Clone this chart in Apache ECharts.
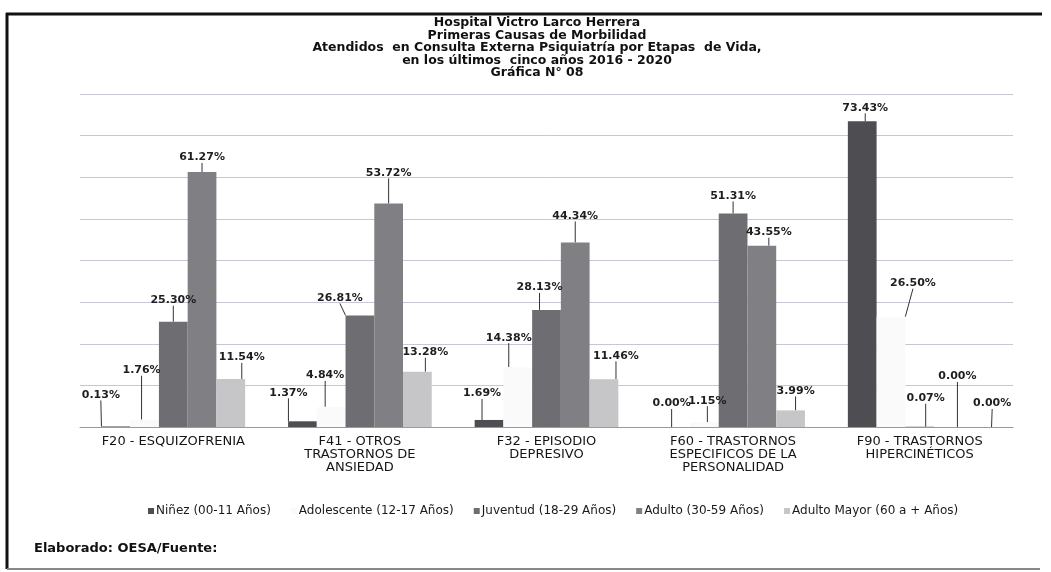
<!DOCTYPE html>
<html>
<head>
<meta charset="utf-8">
<script src="https://cdn.jsdelivr.net/npm/echarts@6/dist/echarts.min.js"></script>
<style>
  html, body { margin: 0; padding: 0; background: #fff; }
  #chart { width: 1051px; height: 572px; }
</style>
</head>
<body>
<div id="chart"></div>
<script>
// categorias (diagnosticos)
const categories = [
  "F20 - ESQUIZOFRENIA",
  "F41 - OTROS\nTRASTORNOS DE\nANSIEDAD",
  "F32 - EPISODIO\nDEPRESIVO",
  "F60 - TRASTORNOS\nESPECIFICOS DE LA\nPERSONALIDAD",
  "F90 - TRASTORNOS\nHIPERCINÉTICOS"
];

// etapas de vida
const groupNames = [
  "Niñez (00-11 Años)",
  "Adolescente (12-17 Años)",
  "Juventud (18-29 Años)",
  "Adulto (30-59 Años)",
  "Adulto Mayor (60 a + Años)"
];

// porcentajes por etapa
const ninez = [0.13, 1.37, 1.69, 0.0, 73.43];
const adolescente = [1.76, 4.84, 14.38, 1.15, 26.5];
const juventud = [25.3, 26.81, 28.13, 51.31, 0.07];
const adulto = [61.27, 53.72, 44.34, 43.55, 0.0];
const adultoMayor = [11.54, 13.28, 11.46, 3.99, 0.0];

const seriesValues = [ninez, adolescente, juventud, adulto, adultoMayor];
const colors = ["#4e4e52", "#fafafa", "#6e6e72", "#808084", "#c6c6c9"];

const FONT = "DejaVu Sans";

// desplazamiento de etiquetas (estilo Excel, con lineas guia)
const labelOffsets = [
  [[-15, -21], [-14, -18], [-7, -16], [-4, -13], [3, -3]],
  [[-3, -39], [-6, -21], [-9, -19], [3, -11], [22, -23]],
  [[0, -11], [-20, -7], [-7, -12], [0, -7], [6, -18]],
  [[0, -4], [0, -20], [0, -16], [7, -3], [9, -40]],
  [[11, -11], [8, -9], [12, -13], [5, -9], [15, -13]]
];

const chart = echarts.init(document.getElementById("chart"), null, {
  renderer: "canvas",
});

const series = seriesValues.map((vals, i) => ({
  name: groupNames[i],
  type: "bar",
  data: vals,
  barGap: "0%",
  barCategoryGap: "23%",
  itemStyle: { color: colors[i] },
  label: {
    show: true,
    position: "top",
    distance: 5,
    fontFamily: FONT,
    fontSize: 11,
    fontWeight: "bold",
    color: "#1e1e1e",
    formatter: (p) => p.value.toFixed(2) + "%",
  },
  labelLine: {
    show: true,
    lineStyle: { color: "#333", width: 1 },
  },
  labelLayout: (params) => {
    const o = labelOffsets[params.seriesIndex][params.dataIndex];
    return { dx: o[0], dy: o[1] };
  },
}));

const option = {
  backgroundColor: "#fff",
  animation: false,
  title: {
    text:
      "Hospital Victro Larco Herrera\nPrimeras Causas de Morbilidad\nAtendidos  en Consulta Externa Psiquiatría por Etapas  de Vida,\nen los últimos  cinco años 2016 - 2020\nGráfica N° 08",
    left: 537,
    textAlign: "center",
    top: 17,
    padding: 0,
    textStyle: {
      fontFamily: FONT,
      fontSize: 12.5,
      fontWeight: "bold",
      color: "#111",
      lineHeight: 12.4,
    },
  },
  legend: {
    data: groupNames,
    left: 148,
    top: 505,
    padding: 0,
    itemWidth: 6,
    itemHeight: 6,
    itemGap: 20,
    icon: "rect",
    textStyle: {
      fontFamily: FONT,
      fontSize: 12,
      color: "#1a1a1a",
      padding: [0, 0, 0, -3],
    },
  },
  grid: {
    left: 80,
    right: 38,
    top: 94,
    bottom: 145,
  },
  xAxis: {
    type: "category",
    data: categories,
    axisTick: { show: false },
    axisLine: { lineStyle: { color: "#9a9a9a", width: 1 } },
    axisLabel: {
      interval: 0,
      margin: 8,
      fontFamily: FONT,
      fontSize: 13,
      lineHeight: 13,
      color: "#151515",
    },
  },
  yAxis: {
    type: "value",
    min: 0,
    max: 80,
    interval: 10,
    axisLabel: { show: false },
    axisLine: { show: false },
    axisTick: { show: false },
    splitLine: { lineStyle: { color: "#c6c6d6", width: 1 } },
  },
  graphic: [
    {
      type: "line",
      shape: { x1: 6, y1: 14, x2: 1042, y2: 14 },
      style: { stroke: "#111", lineWidth: 3 },
    },
    {
      type: "line",
      shape: { x1: 7, y1: 13, x2: 7, y2: 569 },
      style: { stroke: "#111", lineWidth: 3 },
    },
    {
      type: "line",
      shape: { x1: 7, y1: 569, x2: 1040, y2: 569 },
      style: { stroke: "#888", lineWidth: 2 },
    },
    {
      type: "text",
      left: 34,
      top: 542,
      style: {
        text: "Elaborado: OESA/Fuente:",
        fontFamily: FONT,
        fontSize: 13,
        fontWeight: "bold",
        fill: "#111",
      },
    },
  ],
  series: series,
};

chart.setOption(option);

window.addEventListener("resize", () => chart.resize());
</script>
</body>
</html>
